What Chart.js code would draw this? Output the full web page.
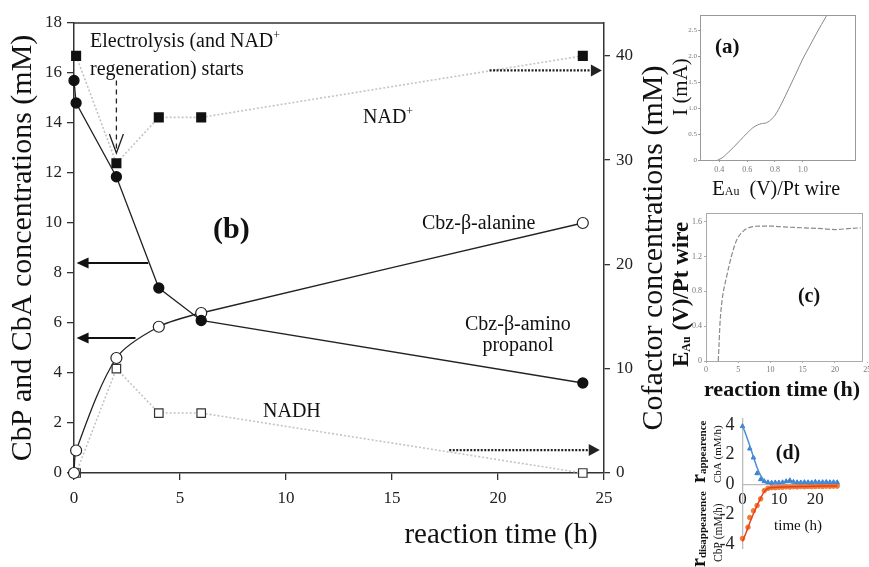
<!DOCTYPE html>
<html><head><meta charset="utf-8">
<script src="https://cdn.jsdelivr.net/npm/chart.js@4.4.1/dist/chart.umd.min.js"></script>
<style>
html,body{margin:0;padding:0;background:#fff;}
#wrap{position:relative;width:869px;height:567px;overflow:hidden;background:#fff;}
canvas{position:absolute;display:block;}
</style></head><body>
<div id="wrap">
<canvas id="main" width="869" height="567" style="left:0;top:0;width:869px;height:567px"></canvas>
<canvas id="ca" width="209" height="200" style="left:660px;top:0;width:209px;height:200px"></canvas>
<canvas id="cc" width="209" height="205" style="left:660px;top:200px;width:209px;height:205px"></canvas>
<canvas id="cd" width="209" height="167" style="left:660px;top:400px;width:209px;height:167px"></canvas>
</div>
<script>
// ---------------- DATA ----------------
// main panel (b)
const mainTime = [0, 0.1, 2, 4, 6, 24];
const cbpConc  = [15.7, 14.8, 11.85, 7.4, 6.1, 3.6];   // Cbz-β-amino propanol (filled circles)
const cbaConc  = [0, 0.9, 4.6, 5.85, 6.4, 10.0];       // Cbz-β-alanine (open circles)
const cofTime  = [0.1, 2, 4, 6, 24];
const nadConc  = [40, 29.7, 34.1, 34.1, 40];           // NAD+ (filled squares)
const nadhConc = [0, 10.0, 5.75, 5.75, 0];             // NADH (open squares)
const mainXTicks  = [0, 5, 10, 15, 20, 25];
const leftYTicks  = [0, 2, 4, 6, 8, 10, 12, 14, 16, 18];
const rightYTicks = [0, 10, 20, 30, 40];

// inset (a)
const cvPotential = [0.388,0.42,0.45,0.50,0.55,0.60,0.65,0.70,0.74,0.78,0.80,0.85,0.90,0.95,1.00,1.05,1.10,1.17];
const cvCurrent   = [0,0.04,0.11,0.24,0.38,0.52,0.64,0.70,0.72,0.80,0.86,1.10,1.38,1.66,1.95,2.20,2.45,2.78];
const cvXTicks = [0.4, 0.6, 0.8, 1.0];
const cvYTicks = [0, 0.5, 1.0, 1.5, 2.0, 2.5];

// inset (c)
const eTime      = [1.9,2.0,2.17,2.5,3.2,4.0,4.76,5.5,6.3,8.4,10,12,15,18,20,22,24];
const ePotential = [0,0.15,0.43,0.7,0.97,1.22,1.39,1.47,1.52,1.55,1.55,1.54,1.53,1.52,1.51,1.52,1.53];
const eXTicks = [0, 5, 10, 15, 20, 25];
const eYTicks = [0, 0.4, 0.8, 1.2, 1.6];

// inset (d)
const appearTime = [0,2,3,4,5,6,7,8,9,10,11,12,13,14,15,16,17,18,19,20,21,22,23,24,25,26];
const appearRate = [3.9,2.4,1.8,0.75,0.35,0.22,0.15,0.12,0.14,0.13,0.15,0.22,0.28,0.18,0.15,0.14,0.16,0.15,0.14,0.18,0.15,0.16,0.17,0.15,0.16,0.15];
const disTime = [0,1.5,2,3,4,5,6,7,8,9,10,11,12,13,14,15,16,17,18,19,20,21,22,23,24,25,26];
const disRate = [-3.6,-2.85,-2.2,-1.75,-1.4,-0.95,-0.4,-0.25,-0.2,-0.2,-0.18,-0.17,-0.15,-0.16,-0.14,-0.15,-0.13,-0.14,-0.12,-0.13,-0.12,-0.11,-0.12,-0.1,-0.11,-0.1,-0.1];
const fitTime    = [0,1,2,3,4,5,6,7,8,10,14,18,22,26];
const appearFit  = [3.95,3.3,2.6,1.85,1.15,0.6,0.28,0.15,0.12,0.12,0.15,0.15,0.15,0.15];
const disFit     = [-3.8,-3.2,-2.55,-1.95,-1.4,-0.9,-0.45,-0.25,-0.2,-0.17,-0.14,-0.12,-0.1,-0.1];
const rateXTicks = [0, 10, 20];
const rateYTicks = [-4, -2, 0, 2, 4];

// ---------------- HELPERS ----------------
const FONT = '"Liberation Serif","Times New Roman",serif';
Chart.defaults.font.family = FONT;
Chart.defaults.color = '#222';
const pts = (xs, ys) => xs.map((x, i) => ({x: x, y: ys[i]}));
const setTicks = arr => s => { s.ticks = arr.map(v => ({value: v})); };

function rich(ctx, x, y, segs, o) {
  o = o || {};
  ctx.save();
  ctx.translate(x, y);
  if (o.rot) ctx.rotate(o.rot);
  ctx.fillStyle = o.color || '#111';
  ctx.textBaseline = 'alphabetic';
  ctx.textAlign = 'left';
  const fnt = s => (s.b ? 'bold ' : '') + s.f + 'px ' + FONT;
  const ws = segs.map(s => { ctx.font = fnt(s); return ctx.measureText(s.t).width; });
  const tot = ws.reduce((a, b) => a + b, 0);
  let cx = o.align === 'center' ? -tot / 2 : (o.align === 'right' ? -tot : 0);
  segs.forEach((s, i) => { ctx.font = fnt(s); ctx.fillText(s.t, cx, s.dy || 0); cx += ws[i]; });
  ctx.restore();
}

function arrow(ctx, x0, y0, x1, y1, o) {
  const dx = x1 - x0, dy = y1 - y0, L = Math.hypot(dx, dy);
  const ux = dx / L, uy = dy / L;
  const hl = o.head, hw = o.hw;
  ctx.save();
  ctx.strokeStyle = o.color; ctx.fillStyle = o.color; ctx.lineWidth = o.width;
  ctx.setLineDash(o.dash || []);
  ctx.beginPath();
  ctx.moveTo(x0, y0);
  if (o.open) ctx.lineTo(x1, y1); else ctx.lineTo(x1 - ux * hl * 0.9, y1 - uy * hl * 0.9);
  ctx.stroke();
  ctx.setLineDash([]);
  const bx = x1 - ux * hl, by = y1 - uy * hl;
  ctx.beginPath();
  ctx.moveTo(bx - uy * hw, by + ux * hw);
  ctx.lineTo(x1, y1);
  ctx.lineTo(bx + uy * hw, by - ux * hw);
  if (o.open) { ctx.lineWidth = o.width; ctx.stroke(); } else { ctx.closePath(); ctx.fill(); }
  ctx.restore();
}

// ---------------- MAIN CHART ----------------
const mainDecor = {
  id: 'mainDecor',
  afterDraw(chart) {
    const ctx = chart.ctx, a = chart.chartArea;
    const sx = chart.scales.x, sy = chart.scales.y, sy2 = chart.scales.y2;
    ctx.save();
    ctx.strokeStyle = '#333'; ctx.lineWidth = 1.5;
    ctx.beginPath(); ctx.moveTo(a.left, a.top); ctx.lineTo(a.right, a.top); ctx.stroke();
    ctx.restore();
    // dashed arrow: electrolysis starts at t = 2 h
    arrow(ctx, sx.getPixelForValue(2), sy.getPixelForValue(15.7), sx.getPixelForValue(2), sy.getPixelForValue(12.8),
      {color: '#222', width: 1.3, dash: [5, 4], head: 19, hw: 7, open: true});
    // solid arrows pointing to left axis
    arrow(ctx, sx.getPixelForValue(3.5), sy.getPixelForValue(8.4), sx.getPixelForValue(0.12), sy.getPixelForValue(8.4),
      {color: '#111', width: 2, head: 12, hw: 5.5});
    arrow(ctx, sx.getPixelForValue(2.9), sy.getPixelForValue(5.4), sx.getPixelForValue(0.12), sy.getPixelForValue(5.4),
      {color: '#111', width: 2, head: 12, hw: 5.5});
    // dotted arrows pointing to right axis
    arrow(ctx, sx.getPixelForValue(19.6), sy2.getPixelForValue(38.6), sx.getPixelForValue(24.9), sy2.getPixelForValue(38.6),
      {color: '#222', width: 2.2, dash: [2, 1.5], head: 11, hw: 6});
    arrow(ctx, sx.getPixelForValue(17.7), sy2.getPixelForValue(2.2), sx.getPixelForValue(24.8), sy2.getPixelForValue(2.2),
      {color: '#222', width: 2.2, dash: [2, 1.5], head: 11, hw: 6});
    // texts
    rich(ctx, 90, 47, [{t: 'Electrolysis (and NAD', f: 20}, {t: '+', f: 12, dy: -8}]);
    rich(ctx, 90, 75, [{t: 'regeneration) starts', f: 20}]);
    rich(ctx, 363, 123, [{t: 'NAD', f: 20}, {t: '+', f: 12, dy: -8}]);
    rich(ctx, 213, 238, [{t: '(b)', f: 30, b: true}]);
    rich(ctx, 422, 229, [{t: 'Cbz-β-alanine', f: 20}]);
    rich(ctx, 465, 330, [{t: 'Cbz-β-amino', f: 20}]);
    rich(ctx, 518, 351, [{t: 'propanol', f: 20}], {align: 'center'});
    rich(ctx, 263, 417, [{t: 'NADH', f: 20}]);
    rich(ctx, 501, 543, [{t: 'reaction time (h)', f: 29}], {align: 'center'});
    rich(ctx, 31, 248, [{t: 'CbP and CbA concentrations (mM)', f: 30}], {align: 'center', rot: -Math.PI / 2});
    rich(ctx, 662, 248, [{t: 'Cofactor concentrations (mM)', f: 30}], {align: 'center', rot: -Math.PI / 2});
  }
};

new Chart(document.getElementById('main'), {
  type: 'line',
  data: {datasets: [
    {label: 'Cbz-β-amino propanol', data: pts(mainTime, cbpConc), yAxisID: 'y', borderColor: '#222', borderWidth: 1.3,
     pointRadius: 5, pointBackgroundColor: '#111', pointBorderColor: '#111', tension: 0, clip: false},
    {label: 'Cbz-β-alanine', data: pts(mainTime, cbaConc), yAxisID: 'y', borderColor: '#222', borderWidth: 1.3,
     pointRadius: 5.5, pointBackgroundColor: '#fff', pointBorderColor: '#222', pointBorderWidth: 1.2,
     tension: 0.3, clip: false},
    {label: 'NAD+', data: pts(cofTime, nadConc), yAxisID: 'y2', borderColor: '#c4c4c4', borderWidth: 1.6, borderDash: [2, 2],
     pointStyle: 'rect', pointRadius: 6, pointBackgroundColor: '#111', pointBorderColor: '#111', clip: false},
    {label: 'NADH', data: pts(cofTime, nadhConc), yAxisID: 'y2', borderColor: '#c4c4c4', borderWidth: 1.6, borderDash: [2, 2],
     pointStyle: 'rect', pointRadius: 6, pointBackgroundColor: '#fff', pointBorderColor: '#333', pointBorderWidth: 1.2, clip: false}
  ]},
  options: {
    responsive: false, animation: false, events: [],
    layout: {padding: {top: 23, left: 0, right: 209, bottom: 0}},
    plugins: {legend: {display: false}, tooltip: {enabled: false}},
    scales: {
      x: {type: 'linear', min: 0, max: 25, afterBuildTicks: setTicks(mainXTicks),
          afterFit: s => { s.height = 94; s.paddingLeft = 0; s.paddingRight = 0; },
          grid: {drawOnChartArea: false, tickLength: 7, color: '#333', lineWidth: 1.3},
          border: {color: '#333', width: 1.5},
          ticks: {font: {size: 17}, color: '#222', padding: 8, maxRotation: 0}},
      y: {position: 'left', min: 0, max: 18, afterBuildTicks: setTicks(leftYTicks),
          afterFit: s => { s.width = 74; },
          grid: {drawOnChartArea: false, tickLength: 7, color: '#333', lineWidth: 1.3},
          border: {color: '#333', width: 1.5},
          ticks: {font: {size: 17}, color: '#222', padding: 5}},
      y2: {position: 'right', min: 0, max: 43.15, afterBuildTicks: setTicks(rightYTicks),
          afterFit: s => { s.width = 56; },
          grid: {drawOnChartArea: false, tickLength: 6, color: '#333', lineWidth: 1.3},
          border: {color: '#333', width: 1.5},
          ticks: {font: {size: 17}, color: '#222', padding: 6}}
    }
  },
  plugins: [mainDecor]
});

// ---------------- INSET (a) ----------------
const frame = (color) => ({
  id: 'frame',
  afterDraw(chart) {
    const c = chart.ctx, a = chart.chartArea;
    c.save(); c.strokeStyle = color; c.lineWidth = 1;
    c.strokeRect(a.left + 0.5, a.top + 0.5, a.right - a.left, a.bottom - a.top);
    c.restore();
  }
});
const smallTicks = {font: {size: 8}, color: '#777'};

new Chart(document.getElementById('ca'), {
  type: 'line',
  data: {datasets: [{data: pts(cvPotential, cvCurrent), borderColor: '#888', borderWidth: 1, pointRadius: 0,
    cubicInterpolationMode: 'monotone', clip: false}]},
  options: {
    responsive: false, animation: false, events: [],
    layout: {padding: {top: 15, right: 14, left: 0, bottom: 0}},
    plugins: {legend: {display: false}, tooltip: {enabled: false}},
    scales: {
      x: {type: 'linear', min: 0.261, max: 1.376, afterBuildTicks: setTicks(cvXTicks),
          afterFit: s => { s.height = 40; s.paddingLeft = 0; s.paddingRight = 0; },
          grid: {drawOnChartArea: false, tickLength: 2, color: '#999'}, border: {color: '#999'},
          ticks: {font: {size: 8}, color: '#777', padding: 3, maxRotation: 0, callback: v => v.toFixed(1)}},
      y: {min: 0, max: 2.8, afterBuildTicks: setTicks(cvYTicks),
          afterFit: s => { s.width = 40; },
          grid: {drawOnChartArea: false, tickLength: 2, color: '#999'}, border: {color: '#999'},
          ticks: {font: {size: 7}, color: '#777', padding: 1, callback: v => v === 0 ? '0' : v.toFixed(1)}}
    }
  },
  plugins: [frame('#999'), {id: 'aText', afterDraw(chart) {
    const ctx = chart.ctx;
    rich(ctx, 55, 53, [{t: '(a)', f: 21, b: true}]);
    rich(ctx, 27, 87, [{t: 'I (mA)', f: 21}], {align: 'center', rot: -Math.PI / 2});
    rich(ctx, 52, 195, [{t: 'E', f: 21}, {t: 'Au', f: 12}, {t: '  (V)/Pt wire', f: 20}]);
  }}]
});

// ---------------- INSET (c) ----------------
new Chart(document.getElementById('cc'), {
  type: 'line',
  data: {datasets: [{data: pts(eTime, ePotential), borderColor: '#8a8a8a', borderWidth: 1.2, borderDash: [5, 2], pointRadius: 0,
    cubicInterpolationMode: 'monotone', clip: false}]},
  options: {
    responsive: false, animation: false, events: [],
    layout: {padding: {top: 13, right: 7, left: 0, bottom: 0}},
    plugins: {legend: {display: false}, tooltip: {enabled: false}},
    scales: {
      x: {type: 'linear', min: 0, max: 24.2, afterBuildTicks: setTicks(eXTicks),
          afterFit: s => { s.height = 44; s.paddingLeft = 0; s.paddingRight = 0; },
          grid: {drawOnChartArea: false, tickLength: 2, color: '#aaa'}, border: {color: '#aaa'},
          ticks: Object.assign({padding: 2, maxRotation: 0, autoSkip: false}, smallTicks)},
      y: {min: 0, max: 1.70, afterBuildTicks: setTicks(eYTicks),
          afterFit: s => { s.width = 46; },
          grid: {drawOnChartArea: false, tickLength: 2, color: '#aaa'}, border: {color: '#aaa'},
          ticks: Object.assign({padding: 2, callback: v => v === 0 ? '0' : v.toFixed(1)}, smallTicks)}
    }
  },
  plugins: [frame('#aaa'), {id: 'cText', afterDraw(chart) {
    const ctx = chart.ctx;
    rich(ctx, 149, 102, [{t: '(c)', f: 20, b: true}], {align: 'center'});
    rich(ctx, 122, 196, [{t: 'reaction time (h)', f: 22, b: true}], {align: 'center'});
    rich(ctx, 28, 167, [{t: 'E', f: 23, b: true}, {t: 'Au', f: 12, b: true, dy: 2}, {t: ' (V)/Pt wire', f: 23, b: true}],
      {rot: -Math.PI / 2});
  }}]
});

// ---------------- INSET (d) ----------------
new Chart(document.getElementById('cd'), {
  type: 'line',
  data: {datasets: [
    {data: pts(fitTime, appearFit), borderColor: '#4a8fd6', borderWidth: 1.5, pointRadius: 0, cubicInterpolationMode: 'monotone', clip: false},
    {data: pts(fitTime, disFit), borderColor: '#e8401c', borderWidth: 1.5, pointRadius: 0, cubicInterpolationMode: 'monotone', clip: false},
    {data: pts(appearTime, appearRate), showLine: false, pointStyle: 'triangle', pointRadius: 2.6,
     pointBackgroundColor: '#3b80d2', pointBorderColor: '#3b80d2', clip: false},
    {data: pts(disTime, disRate), showLine: false, pointStyle: 'circle', pointRadius: 2.3,
     pointBackgroundColor: '#f07c34', pointBorderColor: '#f07c34', clip: false}
  ]},
  options: {
    responsive: false, animation: false, events: [],
    layout: {padding: {top: 15, right: 30, left: 0, bottom: 6}},
    plugins: {legend: {display: false}, tooltip: {enabled: false}},
    scales: {
      x: {type: 'linear', position: {y: 0}, min: 0, max: 26.5, afterBuildTicks: setTicks(rateXTicks),
          afterFit: s => { s.paddingLeft = 0; s.paddingRight = 0; },
          grid: {drawOnChartArea: false, tickLength: 3, color: '#bbb'}, border: {color: '#bbb', width: 1.3},
          ticks: {font: {size: 17}, color: '#222', padding: 2, maxRotation: 0}},
      y: {min: -4.25, max: 4.4, afterBuildTicks: setTicks(rateYTicks),
          afterFit: s => { s.width = 82.5; },
          grid: {display: false, drawTicks: false}, border: {color: '#bbb', width: 1.3},
          ticks: {font: {size: 18}, color: '#222', padding: 8}}
    }
  },
  plugins: [{id: 'dText', afterDraw(chart) {
    const ctx = chart.ctx;
    rich(ctx, 128, 59, [{t: '(d)', f: 20, b: true}], {align: 'center'});
    rich(ctx, 138, 130, [{t: 'time (h)', f: 15}], {align: 'center'});
    rich(ctx, 45, 83, [{t: 'r', f: 20, b: true}, {t: 'appearence', f: 11, b: true, dy: 1}], {rot: -Math.PI / 2});
    rich(ctx, 61, 83, [{t: 'CbA (mM/h)', f: 11}], {rot: -Math.PI / 2});
    rich(ctx, 45, 167, [{t: 'r', f: 20, b: true}, {t: 'disappearence', f: 11, b: true, dy: 1}], {rot: -Math.PI / 2});
    rich(ctx, 62, 162, [{t: 'CbP (mM/h)', f: 11.5}], {rot: -Math.PI / 2});
  }}]
});
</script>
</body></html>
